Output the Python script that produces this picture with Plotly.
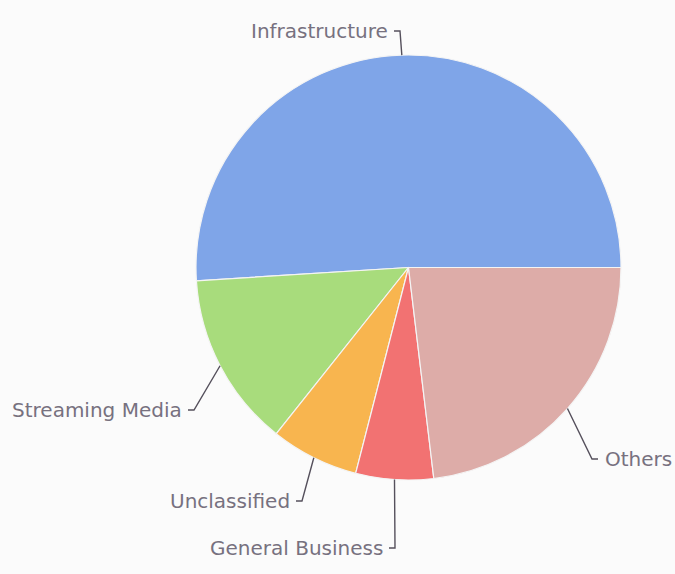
import math
import plotly.graph_objects as go

# Share of traffic by category
categories = ["Infrastructure", "Streaming Media", "Unclassified", "General Business", "Others"]
values = [51.0, 13.3, 6.7, 5.9, 23.1]
colors = ["#7fa5e8", "#a8dc7c", "#f8b54f", "#f27272", "#ddaca8"]

W, H = 675, 574
CX, CY, R = 408.5, 267.5, 212.5   # pie centre and radius in pixels

# Label bend points (pixel space) and which side the text sits on
label_bends = {
    "Infrastructure": (400, 31, "left"),
    "Streaming Media": (194, 410, "left"),
    "Unclassified": (302, 501, "left"),
    "General Business": (395, 548, "left"),
    "Others": (592, 459, "right"),
}

total = sum(values)
first_deg = 360.0 * values[0] / total
rotation = 90.0 - first_deg  # first slice ends at 3 o'clock


def px(x):
    return x / W


def py(y):
    return 1 - y / H


fig = go.Figure(
    go.Pie(
        labels=categories,
        values=values,
        sort=False,
        direction="counterclockwise",
        rotation=rotation,
        marker=dict(colors=colors, line=dict(color="#f4f4f4", width=1.2)),
        textinfo="none",
        hoverinfo="label+percent",
        domain=dict(x=[px(CX - R), px(CX + R)], y=[py(CY + R), py(CY - R)]),
        showlegend=False,
    )
)

# Leader lines and labels, anchored on each slice's mid angle
shapes, annotations = [], []
start = rotation + first_deg  # clockwise-from-top angle where the first slice begins
angle = start
for name, v in zip(categories, values):
    span = 360.0 * v / total
    mid = angle - span / 2.0
    angle -= span
    a = math.radians(mid)
    ex, ey = CX + R * math.sin(a), CY - R * math.cos(a)
    bx, by, side = label_bends[name]
    hook = -6 if side == "left" else 6
    path = f"M {px(ex)},{py(ey)} L {px(bx)},{py(by)} L {px(bx + hook)},{py(by)}"
    shapes.append(dict(type="path", path=path, xref="paper", yref="paper",
                       line=dict(color="#55505c", width=1.4)))
    tx = bx + hook + (-4 if side == "left" else 5)
    annotations.append(dict(
        x=px(tx), y=py(by), xref="paper", yref="paper", text=name, showarrow=False,
        xanchor="right" if side == "left" else "left", yanchor="middle",
        font=dict(family="DejaVu Sans, Verdana, sans-serif", size=20, color="#77717f"),
    ))

fig.update_layout(
    width=W, height=H,
    margin=dict(l=0, r=0, t=0, b=0),
    paper_bgcolor="#fbfbfb",
    plot_bgcolor="#fbfbfb",
    shapes=shapes,
    annotations=annotations,
)

fig.write_html("out.html")
